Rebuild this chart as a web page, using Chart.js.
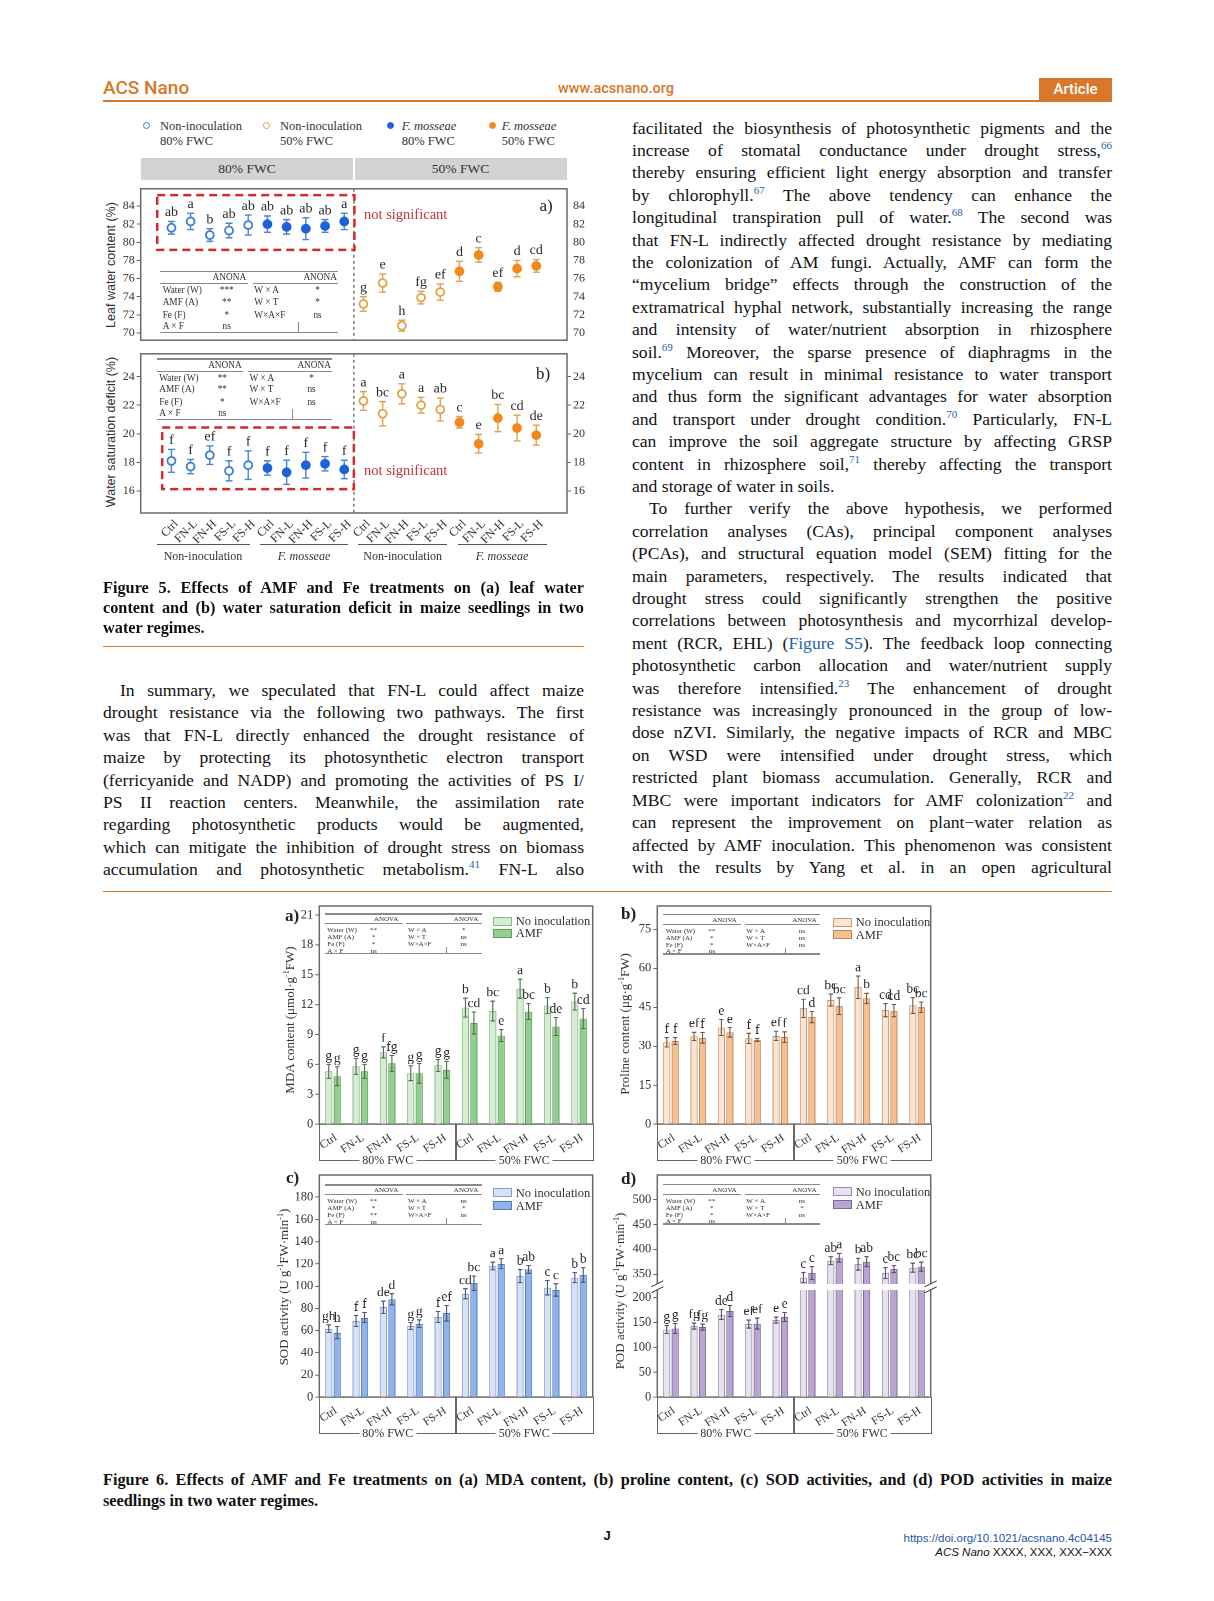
<!DOCTYPE html>
<html><head><meta charset="utf-8">
<script src="https://cdn.jsdelivr.net/npm/chart.js@4.4.1/dist/chart.umd.min.js"></script>
<style>
html,body{margin:0;padding:0;background:#fff;}
#page{position:relative;width:1214px;height:1601px;overflow:hidden;font-family:'Liberation Serif',serif;color:#111;}
.abs{position:absolute;}
.rot{position:absolute;transform:translate(-50%,-50%) rotate(-90deg);white-space:nowrap;}
.txt{position:absolute;font-size:17.6px;line-height:22.42px;}
.txt div{height:22.42px;white-space:nowrap;}
.cap{position:absolute;font-size:16.3px;font-weight:bold;line-height:20.4px;}
.cap div{height:20.4px;white-space:nowrap;}
.j{text-align:justify;text-align-last:justify;}
.l{text-align:left;}
.ind{padding-left:17px;}
.ref{color:#1f5fb0;font-size:11px;vertical-align:0.62em;line-height:0;}
.blue{color:#1f5fb0;}
.mkr{position:absolute;width:5px;height:5px;border:1.8px solid;border-radius:50%;}
.f5l{position:absolute;font-size:12.5px;line-height:15px;color:#333;white-space:nowrap;}
.cw{position:absolute;}
.t{position:absolute;white-space:nowrap;line-height:1;}
.lg{position:absolute;font-size:12.5px;color:#333;white-space:nowrap;line-height:12px;}
.lgb{position:absolute;width:17px;height:7px;border:1px solid #888;}
.brk{position:absolute;border-left:1.2px solid #666;border-right:1.2px solid #666;border-bottom:1.2px solid #666;}
.brkl{position:absolute;font-size:12px;color:#333;background:#fff;padding:0 3px;transform:translate(-50%,-50%);white-space:nowrap;line-height:13px;}
.yt{font-size:13px;color:#333;}
</style></head><body><div id="page">

<!-- header -->
<div class="abs" style="left:103px;top:76px;font:500 19px Roboto,sans-serif;color:#d9782a;line-height:24px">ACS Nano</div>
<div class="abs" style="left:516px;top:78px;width:200px;text-align:center;font:500 14.5px Roboto,sans-serif;color:#d9782a;line-height:22px">www.acsnano.org</div>
<div class="abs" style="left:1039px;top:77.5px;width:73px;height:22.5px;background:#d9782a;color:#fff;text-align:center;font:500 15px Roboto,sans-serif;line-height:22.5px">Article</div>
<div class="abs" style="left:103px;top:99.5px;width:1009px;height:2px;background:#d9782a"></div>

<!-- Figure 5 legend -->
<span class="mkr" style="left:143.4px;top:122.4px;border-color:#3f7fcf;background:#fff"></span>
<div class="f5l" style="left:160px;top:119.2px">Non-inoculation<br>80% FWC</div>
<span class="mkr" style="left:263.4px;top:122.4px;border-color:#e5a245;background:#fff"></span>
<div class="f5l" style="left:280px;top:119.2px">Non-inoculation<br>50% FWC</div>
<span class="mkr" style="left:386.7px;top:122.4px;border-color:#1d62d8;background:#1d62d8"></span>
<div class="f5l" style="left:401.7px;top:119.2px"><i>F. mosseae</i><br>80% FWC</div>
<span class="mkr" style="left:488.7px;top:122.4px;border-color:#f08a1c;background:#f08a1c"></span>
<div class="f5l" style="left:501.7px;top:119.2px"><i>F. mosseae</i><br>50% FWC</div>

<div class="abs" style="left:140.7px;top:158px;width:426.3px;height:22px;background:#d3d3d3"></div>
<div class="abs" style="left:353px;top:158px;width:2px;height:22px;background:#fff"></div>
<div class="abs" style="left:147px;top:158px;width:200px;text-align:center;font-size:13.5px;line-height:22px;color:#333">80% FWC</div>
<div class="abs" style="left:360.5px;top:158px;width:200px;text-align:center;font-size:13.5px;line-height:22px;color:#333">50% FWC</div>

<div class="rot" style="left:111px;top:264.5px;font:12.5px 'Liberation Sans',sans-serif;color:#333">Leaf water content (%)</div>
<div class="rot" style="left:111px;top:431.5px;font:12.5px 'Liberation Sans',sans-serif;color:#333">Water saturation deficit (%)</div>

<div class="cw" style="left:100px;top:183px;width:490px;height:163px"><canvas id="f5a"></canvas></div>
<div class="cw" style="left:100px;top:348px;width:490px;height:215px"><canvas id="f5b"></canvas></div>

<div class="t" style="left:546px;top:205px;transform:translate(-50%,-50%);font-size:17px;color:#222">a)</div>
<div class="t" style="left:543px;top:373px;transform:translate(-50%,-50%);font-size:17px;color:#222">b)</div>
<div class="t" style="left:364px;top:214px;transform:translateY(-50%);font-size:14.5px;color:#c4343b">not significant</div>
<div class="t" style="left:364px;top:470px;transform:translateY(-50%);font-size:14.5px;color:#c4343b">not significant</div>

<div class="abs" style="left:156.7px;top:543.5px;width:93px;height:1.4px;background:#555"></div>
<div class="abs" style="left:260px;top:543.5px;width:88px;height:1.4px;background:#555"></div>
<div class="abs" style="left:358px;top:543.5px;width:89px;height:1.4px;background:#555"></div>
<div class="abs" style="left:458px;top:543.5px;width:89px;height:1.4px;background:#555"></div>
<div class="t" style="left:203px;top:556px;transform:translate(-50%,-50%);font-size:12px;color:#333">Non-inoculation</div>
<div class="t" style="left:304px;top:556px;transform:translate(-50%,-50%);font-size:12px;color:#333"><i>F. mosseae</i></div>
<div class="t" style="left:402.7px;top:556px;transform:translate(-50%,-50%);font-size:12px;color:#333">Non-inoculation</div>
<div class="t" style="left:502px;top:556px;transform:translate(-50%,-50%);font-size:12px;color:#333"><i>F. mosseae</i></div>

<!-- Figure 5 caption -->
<div class="cap" style="left:103px;top:577.5px;width:481px">
<div class="j">Figure 5. Effects of AMF and Fe treatments on (a) leaf water</div>
<div class="j">content and (b) water saturation deficit in maize seedlings in two</div>
<div class="l">water regimes.</div>
</div>
<div class="abs" style="left:103px;top:646px;width:481px;height:1px;background:#d9782a"></div>

<!-- Left text -->
<div class="txt" style="left:103px;top:679px;width:481px">
<div class="j ind">In summary, we speculated that FN-L could affect maize</div>
<div class="j">drought resistance via the following two pathways. The first</div>
<div class="j">was that FN-L directly enhanced the drought resistance of</div>
<div class="j">maize by protecting its photosynthetic electron transport</div>
<div class="j">(ferricyanide and NADP) and promoting the activities of PS I/</div>
<div class="j">PS II reaction centers. Meanwhile, the assimilation rate</div>
<div class="j">regarding photosynthetic products would be augmented,</div>
<div class="j">which can mitigate the inhibition of drought stress on biomass</div>
<div class="j">accumulation and photosynthetic metabolism.<span class="ref">41</span> FN-L also</div>
</div>

<!-- Right text -->
<div class="txt" style="left:632px;top:116.5px;width:480px">
<div class="j">facilitated the biosynthesis of photosynthetic pigments and the</div>
<div class="j">increase of stomatal conductance under drought stress,<span class="ref">66</span></div>
<div class="j">thereby ensuring efficient light energy absorption and transfer</div>
<div class="j">by chlorophyll.<span class="ref">67</span> The above tendency can enhance the</div>
<div class="j">longitudinal transpiration pull of water.<span class="ref">68</span> The second was</div>
<div class="j">that FN-L indirectly affected drought resistance by mediating</div>
<div class="j">the colonization of AM fungi. Actually, AMF can form the</div>
<div class="j">“mycelium bridge” effects through the construction of the</div>
<div class="j">extramatrical hyphal network, substantially increasing the range</div>
<div class="j">and intensity of water/nutrient absorption in rhizosphere</div>
<div class="j">soil.<span class="ref">69</span> Moreover, the sparse presence of diaphragms in the</div>
<div class="j">mycelium can result in minimal resistance to water transport</div>
<div class="j">and thus form the significant advantages for water absorption</div>
<div class="j">and transport under drought condition.<span class="ref">70</span> Particularly, FN-L</div>
<div class="j">can improve the soil aggregate structure by affecting GRSP</div>
<div class="j">content in rhizosphere soil,<span class="ref">71</span> thereby affecting the transport</div>
<div class="l">and storage of water in soils.</div>
<div class="j ind">To further verify the above hypothesis, we performed</div>
<div class="j">correlation analyses (CAs), principal component analyses</div>
<div class="j">(PCAs), and structural equation model (SEM) fitting for the</div>
<div class="j">main parameters, respectively. The results indicated that</div>
<div class="j">drought stress could significantly strengthen the positive</div>
<div class="j">correlations between photosynthesis and mycorrhizal develop-</div>
<div class="j">ment (RCR, EHL) (<span class="blue">Figure S5</span>). The feedback loop connecting</div>
<div class="j">photosynthetic carbon allocation and water/nutrient supply</div>
<div class="j">was therefore intensified.<span class="ref">23</span> The enhancement of drought</div>
<div class="j">resistance was increasingly pronounced in the group of low-</div>
<div class="j">dose nZVI. Similarly, the negative impacts of RCR and MBC</div>
<div class="j">on WSD were intensified under drought stress, which</div>
<div class="j">restricted plant biomass accumulation. Generally, RCR and</div>
<div class="j">MBC were important indicators for AMF colonization<span class="ref">22</span> and</div>
<div class="j">can represent the improvement on plant−water relation as</div>
<div class="j">affected by AMF inoculation. This phenomenon was consistent</div>
<div class="j">with the results by Yang et al. in an open agricultural</div>
</div>

<div class="abs" style="left:103px;top:890.5px;width:1009px;height:1.2px;background:#d9782a"></div>

<!-- Figure 6 -->
<div class="cw" style="left:270px;top:903.5px;width:330px;height:252.5px"><canvas id="f6a"></canvas></div>
<div class="cw" style="left:608px;top:903.5px;width:330px;height:252.5px"><canvas id="f6b"></canvas></div>
<div class="cw" style="left:270px;top:1172.5px;width:330px;height:256.5px"><canvas id="f6c"></canvas></div>
<div class="cw" style="left:608px;top:1172.5px;width:330px;height:256.5px"><canvas id="f6d"></canvas></div>

<div class="t" style="left:285px;top:915px;transform:translateY(-50%);font-size:17px;font-weight:bold;color:#222">a)</div>
<div class="t" style="left:621px;top:913px;transform:translateY(-50%);font-size:17px;font-weight:bold;color:#222">b)</div>
<div class="t" style="left:286px;top:1177px;transform:translateY(-50%);font-size:17px;font-weight:bold;color:#222">c)</div>
<div class="t" style="left:621px;top:1178px;transform:translateY(-50%);font-size:17px;font-weight:bold;color:#222">d)</div>

<div class="rot yt" style="left:290px;top:1020px">MDA content (μmol·g<sup style="font-size:8px">-1</sup>FW)</div>
<div class="rot yt" style="left:625px;top:1024px">Proline content (μg·g<sup style="font-size:8px">-1</sup>FW)</div>
<div class="rot yt" style="left:284px;top:1287px">SOD activity (U g<sup style="font-size:8px">-1</sup>FW·min<sup style="font-size:8px">-1</sup>)</div>
<div class="rot yt" style="left:620px;top:1291px">POD activity (U g<sup style="font-size:8px">-1</sup>FW·min<sup style="font-size:8px">-1</sup>)</div>

<!-- Figure 6 caption -->
<div class="cap" style="left:103px;top:1468.5px;width:1009px;line-height:21px">
<div class="j" style="height:21px">Figure 6. Effects of AMF and Fe treatments on (a) MDA content, (b) proline content, (c) SOD activities, and (d) POD activities in maize</div>
<div class="l" style="height:21px">seedlings in two water regimes.</div>
</div>

<!-- footer -->
<div class="abs" style="left:557px;top:1528px;width:100px;text-align:center;font:bold 13px 'Liberation Sans',sans-serif;line-height:16px">J</div>
<div class="abs" style="left:812px;top:1531px;width:300px;text-align:right;font:11.5px 'Liberation Sans',sans-serif;line-height:14px;color:#1f55a5">https://doi.org/10.1021/acsnano.4c04145</div>
<div class="abs" style="left:812px;top:1544.5px;width:300px;text-align:right;font:11.5px 'Liberation Sans',sans-serif;line-height:14px"><i>ACS Nano</i> XXXX, XXX, XXX−XXX</div>

</div>
<script>
// ---------------- DATA ----------------
const treatments = ['Ctrl', 'FN-L', 'FN-H', 'FS-L', 'FS-H'];
const xLabels5 = [...treatments, ...treatments, ...treatments, ...treatments];
const xLabels6 = [...treatments, ...treatments];

// Figure 5a: leaf water content (%)
const lwcTicks = [70, 72, 74, 76, 78, 80, 82, 84];
const lwcNon80 = [81.6, 82.3, 80.8, 81.3, 81.9];
const lwcNon80Err = [0.7, 0.9, 0.7, 0.8, 1.1];
const lwcFm80 = [82.0, 81.7, 81.5, 81.8, 82.3];
const lwcFm80Err = [0.9, 0.8, 1.2, 0.7, 0.9];
const lwcNon50 = [73.2, 75.5, 70.8, 73.9, 74.5];
const lwcNon50Err = [0.8, 1.0, 0.6, 0.7, 0.9];
const lwcFm50 = [76.8, 78.6, 75.1, 77.1, 77.4];
const lwcFm50Err = [1.1, 0.8, 0.5, 0.9, 0.7];
const lwcLetters = ['ab','a','b','ab','ab','ab','ab','ab','ab','a','g','e','h','fg','ef','d','c','ef','d','cd'];

// Figure 5b: water saturation deficit (%)
const wsdTicks = [16, 18, 20, 22, 24];
const wsdNon80 = [18.1, 17.7, 18.5, 17.4, 17.8];
const wsdNon80Err = [0.8, 0.5, 0.65, 0.7, 1.0];
const wsdFm80 = [17.6, 17.3, 17.8, 17.9, 17.5];
const wsdFm80Err = [0.5, 0.85, 0.9, 0.5, 0.65];
const wsdNon50 = [22.3, 21.4, 22.8, 22.0, 21.7];
const wsdNon50Err = [0.65, 0.85, 0.7, 0.55, 0.8];
const wsdFm50 = [20.8, 19.3, 21.1, 20.4, 19.9];
const wsdFm50Err = [0.4, 0.65, 0.95, 0.9, 0.7];
const wsdLetters = ['f','f','ef','f','f','f','f','f','f','f','a','bc','a','a','ab','c','e','bc','cd','de'];

// Figure 6a: MDA content
const mdaTicks = [0, 3, 6, 9, 12, 15, 18, 21];
const mdaNon = [5.3, 5.8, 7.2, 5.1, 5.9, 11.7, 11.35, 13.6, 11.9, 12.3];
const mdaNonErr = [0.7, 0.8, 0.55, 0.75, 0.6, 0.95, 1.0, 0.95, 0.8, 0.85];
const mdaAmf = [4.8, 5.3, 6.1, 5.1, 5.45, 10.15, 8.9, 11.3, 9.8, 10.6];
const mdaAmfErr = [0.95, 0.7, 0.8, 1.0, 0.85, 1.1, 0.6, 0.8, 0.9, 1.0];
const mdaNonLet = ['g','g','f','g','g','b','bc','a','b','b'];
const mdaAmfLet = ['g','g','fg','g','g','cd','e','bc','de','cd'];

// Figure 6b: proline content
const proTicks = [0, 15, 30, 45, 60, 75];
const proNon = [31.5, 33.8, 37.2, 33.0, 34.0, 44.6, 47.8, 52.7, 43.9, 45.7];
const proNonErr = [1.8, 1.6, 3.0, 2.0, 1.8, 3.5, 2.3, 4.3, 2.6, 3.0];
const proAmf = [32.0, 33.2, 35.3, 32.4, 33.5, 41.2, 45.4, 48.4, 43.7, 45.0];
const proAmfErr = [1.3, 2.0, 1.8, 0.6, 2.0, 2.2, 3.2, 2.0, 2.4, 2.0];
const proNonLet = ['f','ef','e','f','ef','cd','bc','a','cd','bc'];
const proAmfLet = ['f','f','e','f','f','d','bc','b','cd','bc'];

// Figure 6c: SOD activity
const sodTicks = [0, 20, 40, 60, 80, 100, 120, 140, 160, 180];
const sodNon = [61.5, 68.5, 81, 64, 72, 93, 118, 109, 98.5, 107.5];
const sodNonErr = [3.5, 5, 5.5, 3, 5, 4.5, 3.5, 6, 6.5, 4.5];
const sodAmf = [58, 71.5, 88, 66, 75.5, 102.5, 120, 115, 96.5, 110];
const sodAmfErr = [5.5, 4.5, 5, 3.5, 7, 6.5, 4.5, 3.5, 5.5, 6.5];
const sodNonLet = ['gh','f','de','g','f','cd','a','b','c','b'];
const sodAmfLet = ['h','f','d','g','ef','bc','a','ab','c','b'];

// Figure 6d: POD activity (broken axis 200 | 350)
const podTicks = [0, 50, 100, 150, 200, 350, 400, 450, 500];
const podNon = [136, 143, 166, 147, 155, 343, 377, 370, 352, 363];
const podNonErr = [8, 6, 10, 8, 6, 10, 8, 12, 11, 9];
const podAmf = [138, 141, 173, 148, 161, 352, 383, 375, 360, 365];
const podAmfErr = [10, 6, 11, 11, 9, 13, 9, 10, 7, 9];
const podNonLet = ['g','fg','de','ef','e','c','ab','b','c','bc'];
const podAmfLet = ['g','fg','d','ef','e','c','a','ab','bc','bc'];

// ANOVA tables
const anova5a = [['Water (W)','***','W × A','*'],['AMF (A)','**','W × T','*'],['Fe (F)','*','W×A×F','ns'],['A × F','ns','','']];
const anova5b = [['Water (W)','**','W × A','*'],['AMF (A)','**','W × T','ns'],['Fe (F)','*','W×A×F','ns'],['A × F','ns','','']];
const anova6a = [['Water (W)','**','W × A','*'],['AMF (A)','*','W × T','ns'],['Fe (F)','*','W×A×F','ns'],['A × F','ns','','']];
const anova6b = [['Water (W)','**','W × A','ns'],['AMF (A)','*','W × T','ns'],['Fe (F)','*','W×A×F','ns'],['A × F','ns','','']];
const anova6c = [['Water (W)','**','W × A','ns'],['AMF (A)','*','W × T','*'],['Fe (F)','**','W×A×F','ns'],['A × F','ns','','']];
const anova6d = [['Water (W)','**','W × A','ns'],['AMF (A)','*','W × T','*'],['Fe (F)','*','W×A×F','ns'],['A × F','ns','','']];

// ---------------- HELPERS ----------------
const page = document.getElementById('page');
function el(cls, style, html) { const d = document.createElement('div'); d.className = cls; d.style.cssText = style; if (html !== undefined) d.innerHTML = html; return d; }

// squeeze any justified line whose natural width exceeds its column
function fitLines() {
  document.querySelectorAll('.txt > div, .cap > div').forEach(d => {
    d.style.letterSpacing = '';
    const over = d.scrollWidth - d.clientWidth;
    if (over > 0) {
      const n = d.textContent.length;
      d.style.letterSpacing = (-(over + 1) / n).toFixed(3) + 'px';
    }
  });
}
fitLines();
if (document.fonts && document.fonts.ready) document.fonts.ready.then(fitLines);

function addAnova(x, y, w, h, fs, rows, hdr, fr) {
  const box = el('abs', `left:${x}px;top:${y}px;width:${w}px;height:${h}px;font-size:${fs}px;color:#333`);
  const ln = (l, t, ww, hh) => box.appendChild(el('abs', `left:${l}px;top:${t}px;width:${ww}px;height:${hh}px;background:#8a8a8a`));
  ln(0, 0, w, 1.3);
  ln(0, fr.ul * h, 0.495 * w, 1);
  ln(0.52 * w, fr.ul * h, 0.48 * w, 1);
  ln(0, h - 1.3, w, 1.3);
  const sepTop = (fr.rows[2] + fr.rows[3]) / 2 * h;
  ln(0.775 * w, sepTop, 1, h - sepTop);
  const t = (txt, l, cy, center) => box.appendChild(el('t', `left:${l}px;top:${cy}px;transform:translate(${center ? '-50%' : '0'},-50%)`, txt));
  t(hdr, 0.39 * w, fr.hd * h, true);
  t(hdr, 0.9 * w, fr.hd * h, true);
  rows.forEach((r, i) => {
    const cy = fr.rows[i] * h;
    t(r[0], 0.015 * w, cy, false);
    t(r[1], fr.sig * w, cy, true);
    t(r[2], 0.53 * w, cy, false);
    t(r[3], 0.885 * w, cy, true);
  });
  page.appendChild(box);
}
const fr5 = {hd: 0.12, ul: 0.2, rows: [0.33, 0.52, 0.72, 0.91], sig: 0.375};
const fr6 = {hd: 0.14, ul: 0.245, rows: [0.42, 0.59, 0.76, 0.92], sig: 0.31};
addAnova(160, 271, 178, 62, 9.3, anova5a, 'ANONA', fr5);
addAnova(156.7, 358.3, 175, 61.7, 9.3, anova5b, 'ANONA', fr5);
addAnova(325, 913.3, 156.7, 40.7, 7, anova6a, 'ANOVA', fr6);
addAnova(663.3, 914, 156.7, 40.7, 7, anova6b, 'ANOVA', fr6);
addAnova(325, 1184.3, 156.7, 40.7, 7, anova6c, 'ANOVA', fr6);
addAnova(663.3, 1184, 156.7, 40.7, 7, anova6d, 'ANOVA', fr6);

const P6 = {
  a: {non: ['#d7edd3', '#88b886'], amf: ['#93cf8f', '#5f9e5c'], err: '#4d6e4b'},
  b: {non: ['#fde4d0', '#c29a7a'], amf: ['#f8bf91', '#c0895c'], err: '#7a5a44'},
  c: {non: ['#d6e2f7', '#8a9ec4'], amf: ['#8fb4ec', '#5a7bb8'], err: '#45577a'},
  d: {non: ['#e8e1ef', '#9d8fab'], amf: ['#baa4d2', '#7d6794'], err: '#5a4d68'}
};
function addLegend(x, y1, y2, pal) {
  page.appendChild(el('lgb', `left:${x}px;top:${y1}px;background:${pal.non[0]};border-color:${pal.non[1]}`));
  page.appendChild(el('lgb', `left:${x}px;top:${y2}px;background:${pal.amf[0]};border-color:${pal.amf[1]}`));
  page.appendChild(el('lg', `left:${x + 23}px;top:${y1 - 1.5}px`, 'No inoculation'));
  page.appendChild(el('lg', `left:${x + 23}px;top:${y2 - 1.5}px`, 'AMF'));
}
addLegend(492.7, 916.5, 928.5, P6.a);
addLegend(832.7, 917.5, 930, P6.b);
addLegend(492.7, 1188, 1201, P6.c);
addLegend(832.7, 1187, 1200, P6.d);

function addBracket(left, bottom) {
  const w = 273.4, h = 36;
  page.appendChild(el('brk', `left:${left - 0.6}px;top:${bottom}px;width:${w}px;height:${h}px`));
  page.appendChild(el('abs', `left:${left + w / 2 - 0.6}px;top:${bottom}px;width:1.2px;height:${h}px;background:#666`));
  page.appendChild(el('brkl', `left:${left + w / 4}px;top:${bottom + h}px`, '80% FWC'));
  page.appendChild(el('brkl', `left:${left + 3 * w / 4}px;top:${bottom + h}px`, '50% FWC'));
}
addBracket(319.3, 1124);
addBracket(657.3, 1124);
addBracket(319.3, 1397);
addBracket(657.3, 1397);

// ---------------- CHART.JS ----------------
Chart.defaults.font.family = "'Liberation Serif', serif";
Chart.defaults.color = '#333';
Chart.defaults.animation = false;

const fixW = w => s => { s.width = w; s.paddingTop = 0; s.paddingBottom = 0; s.paddingLeft = 0; s.paddingRight = 0; };
const fixH = h => s => { s.height = h; s.paddingTop = 0; s.paddingBottom = 0; s.paddingLeft = 0; s.paddingRight = 0; };
const setTicks = arr => s => { s.ticks = arr.map(v => ({value: v})); };
const ident = v => v;

const frame = {
  id: 'frame',
  beforeDatasetsDraw(chart) {
    const {ctx, chartArea: a} = chart;
    ctx.save(); ctx.strokeStyle = '#6a6a6a'; ctx.lineWidth = 1.5;
    ctx.strokeRect(a.left, a.top, a.right - a.left, a.bottom - a.top);
    ctx.restore();
  }
};

function drawErr(chart) {
  const ctx = chart.ctx, ys = chart.scales.y;
  chart.data.datasets.forEach((ds, di) => {
    if (!ds.errors) return;
    const tf = ds.tf || ident;
    const meta = chart.getDatasetMeta(di);
    ctx.save(); ctx.strokeStyle = ds.errColor; ctx.lineWidth = ds.errWidth || 1.2;
    meta.data.forEach((e, i) => {
      const v = ds.vals[i], er = ds.errors[i], c = ds.cap / 2, x = e.x;
      const y1 = ys.getPixelForValue(tf(v + er)), y0 = ys.getPixelForValue(tf(v - er));
      ctx.beginPath();
      ctx.moveTo(x, y0); ctx.lineTo(x, y1);
      ctx.moveTo(x - c, y0); ctx.lineTo(x + c, y0);
      ctx.moveTo(x - c, y1); ctx.lineTo(x + c, y1);
      ctx.stroke();
    });
    ctx.restore();
  });
}
function drawLetters(chart) {
  const ctx = chart.ctx, ys = chart.scales.y;
  chart.data.datasets.forEach((ds, di) => {
    if (!ds.letters) return;
    const tf = ds.tf || ident;
    const meta = chart.getDatasetMeta(di);
    ctx.save(); ctx.fillStyle = '#2a2a2a'; ctx.textAlign = 'center'; ctx.textBaseline = 'bottom';
    ctx.font = `${ds.letterSize}px 'Liberation Serif', serif`;
    meta.data.forEach((e, i) => {
      const y = ys.getPixelForValue(tf(ds.vals[i] + ds.errors[i])) - ds.letterGap;
      ctx.fillText(ds.letters[i], e.x, y);
    });
    ctx.restore();
  });
}
const errBars = {
  id: 'errBars',
  beforeDatasetsDraw(chart) { if (chart.config.type === 'scatter') drawErr(chart); },
  afterDatasetsDraw(chart) { if (chart.config.type !== 'scatter') drawErr(chart); drawLetters(chart); }
};
const fig5Deco = {
  id: 'fig5Deco',
  beforeDatasetsDraw(chart, args, o) {
    const {ctx, chartArea: a, scales: {x, y}} = chart;
    ctx.save();
    ctx.setLineDash([3, 3]); ctx.strokeStyle = '#7a7a7a'; ctx.lineWidth = 1.5;
    const xd = x.getPixelForValue(o.divider);
    ctx.beginPath(); ctx.moveTo(xd, a.top); ctx.lineTo(xd, a.bottom); ctx.stroke();
    ctx.setLineDash([8, 5]); ctx.strokeStyle = '#d42a2a'; ctx.lineWidth = 2.5;
    const b = o.box;
    const x0 = x.getPixelForValue(b[0]), x1 = x.getPixelForValue(b[1]);
    const y0 = y.getPixelForValue(b[2]), y1 = y.getPixelForValue(b[3]);
    ctx.strokeRect(x0, y1, x1 - x0, y0 - y1);
    ctx.restore();
  }
};
const axisBreak = {
  id: 'axisBreak',
  afterDatasetsDraw(chart, args, o) {
    const {ctx, chartArea: a, scales: {y}} = chart;
    const yTop = y.getPixelForValue(o.to), yBot = y.getPixelForValue(o.from);
    ctx.save();
    ctx.fillStyle = '#fff';
    ctx.fillRect(a.left - 3, yTop, a.right - a.left + 6, yBot - yTop);
    ctx.strokeStyle = '#555'; ctx.lineWidth = 1.2;
    [a.left, a.right].forEach(xx => {
      [yTop, yBot].forEach(yy => {
        ctx.beginPath(); ctx.moveTo(xx - 6, yy + 3); ctx.lineTo(xx + 6, yy - 3); ctx.stroke();
      });
    });
    ctx.restore();
  }
};

const C5 = {non80: '#3f7fcf', fm80: '#1d62d8', non50: '#e5a245', fm50: '#f08a1c', err80: '#4a86cf', err50: '#dca255'};
const xIdx5 = xLabels5.map((_, i) => i);

function scatterPanel(id, p) {
  const groups = [
    {vals: p.non80, err: p.non80Err, off: 0, color: C5.non80, fill: false, ec: C5.err80},
    {vals: p.fm80, err: p.fm80Err, off: 5, color: C5.fm80, fill: true, ec: C5.err80},
    {vals: p.non50, err: p.non50Err, off: 10, color: C5.non50, fill: false, ec: C5.err50},
    {vals: p.fm50, err: p.fm50Err, off: 15, color: C5.fm50, fill: true, ec: C5.err50}
  ];
  const datasets = groups.map(g => ({
    data: g.vals.map((v, i) => ({x: g.off + i, y: v})),
    vals: g.vals, errors: g.err, letters: p.letters.slice(g.off, g.off + 5),
    pointRadius: 4, pointHoverRadius: 4, pointBorderWidth: 1.8,
    pointBorderColor: g.color, pointBackgroundColor: g.fill ? g.color : '#fff',
    borderColor: g.color, backgroundColor: g.fill ? g.color : '#fff',
    errColor: g.ec, cap: 7, errWidth: 1.4, letterSize: 14, letterGap: 2
  }));
  return new Chart(document.getElementById(id), {
    type: 'scatter',
    data: {datasets},
    options: {
      responsive: true, maintainAspectRatio: false, devicePixelRatio: 2,
      layout: {padding: {top: 2, bottom: p.showX ? 0 : 2, left: 0, right: 0}},
      scales: {
        x: {
          type: 'linear', min: -1.6, max: 20.6, display: p.showX,
          afterBuildTicks: setTicks(xIdx5), afterFit: fixH(p.showX ? 50 : 0),
          ticks: {callback: (v, i) => xLabels5[i], minRotation: 45, maxRotation: 45, autoSkip: false, padding: -4, labelOffset: 5, font: {size: 12}, color: '#333'},
          grid: {display: false}, border: {display: false}
        },
        y: {
          type: 'linear', position: 'left', min: p.min, max: p.max,
          afterBuildTicks: setTicks(p.ticks), afterFit: fixW(40.7),
          ticks: {padding: 2, font: {size: 12}, color: '#333', autoSkip: false},
          grid: {drawOnChartArea: false, tickLength: 4, color: '#666'}, border: {display: false}
        },
        y2: {
          type: 'linear', position: 'right', min: p.min, max: p.max,
          afterBuildTicks: setTicks(p.ticks), afterFit: fixW(23),
          ticks: {padding: p.showX ? 2 : 6, font: {size: 12}, color: '#333', autoSkip: false},
          grid: p.showX ? {drawOnChartArea: false, tickLength: 4, color: '#666'} : {display: false, drawTicks: false},
          border: {display: false}
        }
      },
      plugins: {legend: {display: false}, tooltip: {enabled: false}, fig5Deco: {divider: 9.5, box: p.box}}
    },
    plugins: [frame, fig5Deco, errBars]
  });
}

scatterPanel('f5a', {non80: lwcNon80, non80Err: lwcNon80Err, fm80: lwcFm80, fm80Err: lwcFm80Err,
  non50: lwcNon50, non50Err: lwcNon50Err, fm50: lwcFm50, fm50Err: lwcFm50Err,
  letters: lwcLetters, ticks: lwcTicks, min: 69.2, max: 85.9, showX: false, box: [-0.74, 9.53, 79.17, 85.2]});
scatterPanel('f5b', {non80: wsdNon80, non80Err: wsdNon80Err, fm80: wsdFm80, fm80Err: wsdFm80Err,
  non50: wsdNon50, non50Err: wsdNon50Err, fm50: wsdFm50, fm50Err: wsdFm50Err,
  letters: wsdLetters, ticks: wsdTicks, min: 14.45, max: 25.6, showX: true, box: [-0.48, 9.5, 16.12, 20.44]});

function barPanel(id, p) {
  const tf = p.tf || ident;
  const mkDs = (vals, errs, lets, col) => ({
    data: vals.map(tf), vals, errors: errs, letters: lets, tf,
    backgroundColor: col[0], borderColor: col[1], borderWidth: 1,
    barPercentage: 0.85, categoryPercentage: 0.62,
    errColor: p.pal.err, cap: 4.5, errWidth: 1.1, letterSize: 13.5, letterGap: 1.5
  });
  const plugins = [frame, errBars];
  if (p.brk) plugins.push(axisBreak);
  return new Chart(document.getElementById(id), {
    type: 'bar',
    data: {labels: xLabels6, datasets: [mkDs(p.non, p.nonErr, p.nonLet, p.pal.non), mkDs(p.amf, p.amfErr, p.amfLet, p.pal.amf)]},
    options: {
      responsive: true, maintainAspectRatio: false, devicePixelRatio: 2,
      layout: {padding: {top: 2, right: 7.3, left: 0, bottom: 0}},
      scales: {
        x: {
          afterFit: fixH(32),
          ticks: {minRotation: 33, maxRotation: 33, autoSkip: false, padding: -1, labelOffset: 3, font: {size: 11.5}, color: '#333'},
          grid: {display: false}, border: {display: false}
        },
        y: {
          min: 0, max: p.max,
          afterBuildTicks: setTicks(p.ticks.map(tf)), afterFit: fixW(49.3),
          ticks: {callback: (v, i) => String(p.ticks[i]), padding: 2, font: {size: 12.5}, color: '#333', autoSkip: false},
          grid: {drawOnChartArea: false, tickLength: 4, color: '#666'}, border: {display: false}
        }
      },
      plugins: {legend: {display: false}, tooltip: {enabled: false}, axisBreak: p.brk || {}}
    },
    plugins
  });
}

const podBreak = v => (v <= 200 ? v : v - 102.5);

barPanel('f6a', {non: mdaNon, nonErr: mdaNonErr, nonLet: mdaNonLet, amf: mdaAmf, amfErr: mdaAmfErr, amfLet: mdaAmfLet, ticks: mdaTicks, max: 21.9, pal: P6.a});
barPanel('f6b', {non: proNon, nonErr: proNonErr, nonLet: proNonLet, amf: proAmf, amfErr: proAmfErr, amfLet: proAmfLet, ticks: proTicks, max: 84, pal: P6.b});
barPanel('f6c', {non: sodNon, nonErr: sodNonErr, nonLet: sodNonLet, amf: sodAmf, amfErr: sodAmfErr, amfLet: sodAmfLet, ticks: sodTicks, max: 200, pal: P6.c});
barPanel('f6d', {non: podNon, nonErr: podNonErr, nonLet: podNonLet, amf: podAmf, amfErr: podAmfErr, amfLet: podAmfLet, ticks: podTicks, max: 447, pal: P6.d, tf: podBreak, brk: {from: 216, to: 228}});
</script>
</body></html>
